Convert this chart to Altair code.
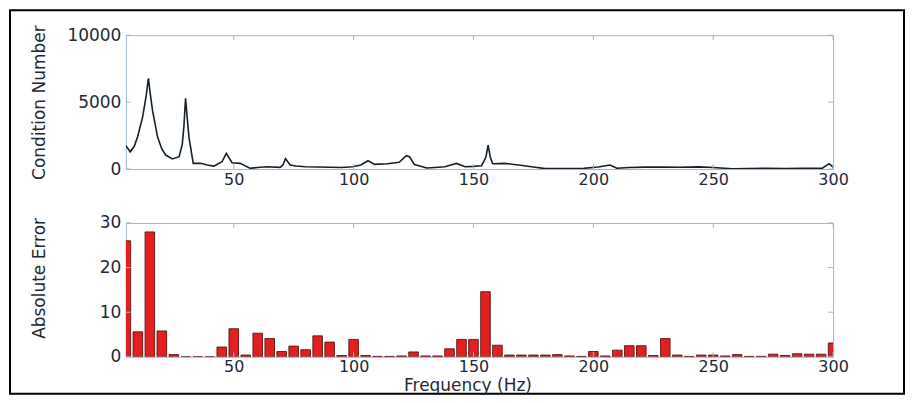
import altair as alt
import pandas as pd

# ---------------- data ----------------
line_freq = [5, 6.8, 8.5, 9.9, 12, 13.5, 14.4, 15.2, 16.1, 18.2, 20, 21.6, 24.4, 27.2,
             28.5, 29.2, 29.9, 30.6, 31.3, 33.1, 36.2, 39, 41.7, 45.1, 46.9, 49.3, 52.7,
             56.9, 60, 63.8, 69.3, 70.5, 71.6, 73.5, 76, 80, 85, 90, 95, 99.5, 103, 106,
             108.8, 114, 119, 122, 123.3, 125.4, 130.5, 134, 138, 142.9, 146.5, 150,
             153.4, 155.2, 156.1, 157, 158, 163, 169.6, 175, 180, 188, 196, 202, 207,
             209.8, 215, 222, 229, 236, 244, 250, 258, 265, 272, 280, 288, 295.5, 298.3, 300]
cond_number = [1750, 1290, 1700, 2410, 3900, 5500, 6770, 5600, 4400, 2410, 1500, 1045, 750, 920,
               1800, 3160, 5280, 3800, 2410, 425, 425, 300, 220, 545, 1170, 470, 425,
               50, 120, 170, 125, 300, 780, 300, 230, 170, 150, 130, 120, 170, 300, 620,
               350, 400, 500, 1000, 920, 330, 80, 120, 170, 420, 170, 200,
               250, 900, 1790, 900, 400, 420, 280, 150, 30, 40, 50, 150, 300,
               60, 120, 140, 150, 130, 160, 120, 20, 40, 60, 40, 50, 60, 400, 150]

bar_freq = [5, 10, 15, 20, 25, 30, 35, 40, 45, 50, 55, 60, 65, 70, 75, 80, 85, 90, 95, 100,
            105, 110, 115, 120, 125, 130, 135, 140, 145, 150, 155, 160, 165, 170, 175, 180,
            185, 190, 195, 200, 205, 210, 215, 220, 225, 230, 235, 240, 245, 250, 255, 260,
            265, 270, 275, 280, 285, 290, 295, 300]
abs_error = [26, 5.6, 28, 5.8, 0.5, 0, 0, 0, 2.2, 6.3, 0.4, 5.3, 4.1, 1.2, 2.4, 1.6, 4.7, 3.3, 0.3, 3.9,
             0.3, 0.1, 0.1, 0.2, 1.1, 0.2, 0.2, 1.8, 3.9, 3.9, 14.6, 2.6, 0.4, 0.4, 0.4, 0.4,
             0.5, 0.2, 0.1, 1.2, 0.2, 1.5, 2.5, 2.5, 0.3, 4.1, 0.4, 0.1, 0.4, 0.4, 0.2, 0.5,
             0.1, 0.1, 0.6, 0.3, 0.7, 0.6, 0.6, 3.1]

x_ticks = [50, 100, 150, 200, 250, 300]
top_y_ticks = [0, 5000, 10000]
bot_y_ticks = [0, 10, 20, 30]

# ---------------- style ----------------
AX = "#9db8cc"
TXT = "#1f2933"
FONT = "DejaVu Sans"
W, H = 708, 134
TICK = 5

line_df = pd.DataFrame({"f": line_freq, "v": cond_number})
bar_df = pd.DataFrame({"f": bar_freq, "e": abs_error})
xt_df = pd.DataFrame({"t": x_ticks})
yt_top_df = pd.DataFrame({"t": top_y_ticks})
yt_bot_df = pd.DataFrame({"t": bot_y_ticks})
one = pd.DataFrame({"a": [0]})

xscale = alt.Scale(domain=[5, 300], nice=False, zero=False)


def x_axis(title):
    kw = dict(values=x_ticks, format="d", ticks=False, domain=False, grid=False,
              labelFlush=False, labelOverlap=False,
              labelFontSize=16, labelPadding=2, labelColor=TXT, labelFont=FONT)
    if title:
        kw.update(title=title, titleFontSize=17, titleFont=FONT, titleColor=TXT,
                  titleFontWeight="normal", titleX=342, titleY=29,
                  titleBaseline="middle", titleAlign="center")
    else:
        kw.update(title=None)
    return alt.Axis(**kw)


def y_axis(vals, title, ty):
    return alt.Axis(values=vals, format="d", ticks=False, domain=False, grid=False,
                    labelFlush=False, labelOverlap=False,
                    labelFontSize=17, labelPadding=5, labelColor=TXT, labelFont=FONT,
                    title=title, titleFontSize=17, titleFont=FONT, titleColor=TXT,
                    titleFontWeight="normal", titleAngle=270, titleX=-86, titleY=ty,
                    titleAlign="center", titleBaseline="middle")


def tick_layers(ydf, yscale):
    xt = alt.Chart(xt_df)
    yt = alt.Chart(ydf)
    return [
        xt.mark_rule(color=AX, strokeWidth=1).encode(
            x=alt.X("t:Q", scale=xscale), y=alt.value(H), y2=alt.value(H - TICK)),
        xt.mark_rule(color=AX, strokeWidth=1).encode(
            x=alt.X("t:Q", scale=xscale), y=alt.value(0), y2=alt.value(TICK)),
        yt.mark_rule(color=AX, strokeWidth=1).encode(
            y=alt.Y("t:Q", scale=yscale), x=alt.value(0), x2=alt.value(TICK)),
        yt.mark_rule(color=AX, strokeWidth=1).encode(
            y=alt.Y("t:Q", scale=yscale), x=alt.value(W - TICK), x2=alt.value(W)),
    ]


# ---------------- top panel ----------------
top_yscale = alt.Scale(domain=[0, 10000], nice=False)
top_line = alt.Chart(line_df).mark_line(clip=True, color="#13202c", strokeWidth=1.6).encode(
    x=alt.X("f:Q", scale=xscale, axis=x_axis(None)),
    y=alt.Y("v:Q", scale=top_yscale, axis=y_axis(top_y_ticks, "Condition Number", 67)),
)
frame = alt.Chart(one).mark_rect(filled=False, stroke="black", strokeWidth=2, clip=False).encode(
    x=alt.value(-116), x2=alt.value(779), y=alt.value(-25), y2=alt.value(359))

top = alt.layer(top_line, *tick_layers(yt_top_df, top_yscale), frame).properties(width=W, height=H)

# ---------------- bottom panel ----------------
bot_yscale = alt.Scale(domain=[0, 30], nice=False)
bars = alt.Chart(bar_df).transform_calculate(
    f0="datum.f - 2", f1="datum.f + 2"
).mark_rect(clip=True, color="#e3201e", stroke="#4a0808", strokeWidth=0.8).encode(
    x=alt.X("f0:Q", scale=xscale, axis=x_axis("Frequency (Hz)")),
    x2="f1:Q",
    y=alt.Y("e:Q", scale=bot_yscale, axis=y_axis(bot_y_ticks, "Absolute Error", 55)),
    y2=alt.datum(0),
)
bottom = alt.layer(bars, *tick_layers(yt_bot_df, bot_yscale)).properties(width=W, height=H)

chart = alt.vconcat(top, bottom, spacing=54, bounds="flush").properties(
    padding=0, background="white"
).configure_view(stroke=AX, strokeWidth=1)

chart.save("out.html", embed_options={"renderer": "svg", "actions": False})
